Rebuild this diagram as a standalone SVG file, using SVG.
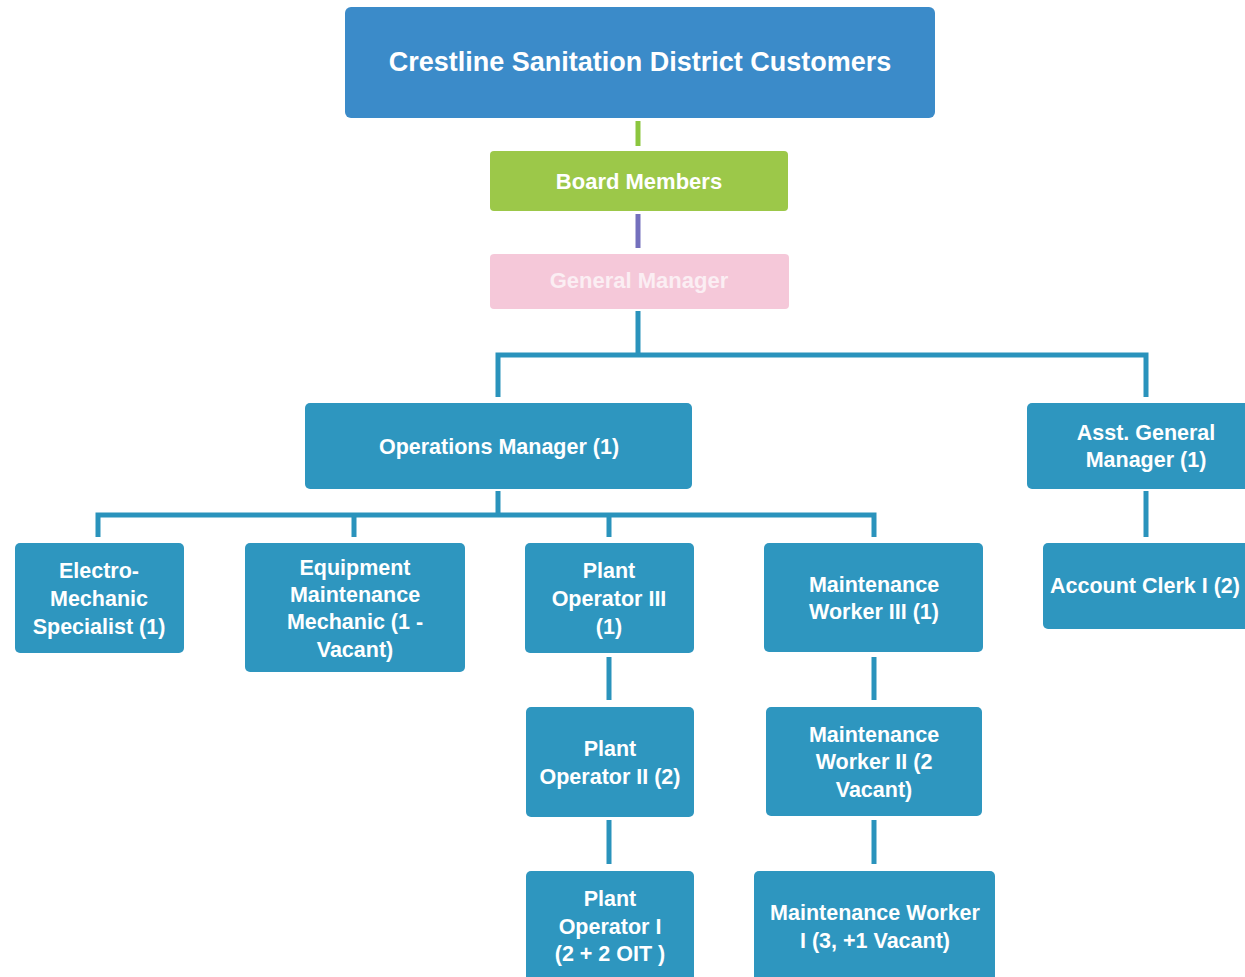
<svg xmlns="http://www.w3.org/2000/svg" width="1245" height="977" viewBox="0 0 1245 977">
<style>
.box{fill:#2e96bf;}
.t{font-family:"Liberation Sans",Arial,sans-serif;font-weight:bold;fill:#ffffff;text-anchor:middle;font-size:21.5px;}
.c{fill:none;stroke:#2a93bc;stroke-width:5;}
</style>
<rect width="1245" height="977" fill="#ffffff"/>
<g id="connectors">
<line x1="638" y1="121" x2="638" y2="146" stroke="#8cc63f" stroke-width="5"/>
<line x1="638" y1="214" x2="638" y2="248" stroke="#7470bd" stroke-width="5"/>
<path class="c" d="M638 311 V355 M498 397 V355 H1146 V397"/>
<path class="c" d="M498 491 V515 M98 537 V515 H874 V537 M354 515 V537 M609 515 V537"/>
<path class="c" d="M1146 491 V537"/>
<path class="c" d="M609 657 V700 M609 820 V864"/>
<path class="c" d="M874 657 V700 M874 820 V864"/>
</g>
<g id="customers">
<rect x="345" y="7" width="590" height="111" rx="6" fill="#3b8bc9"/>
<text class="t" x="640" y="71" style="font-size:27px">Crestline Sanitation District Customers</text>
</g>
<g id="board">
<rect x="490" y="151" width="298" height="60" rx="4" fill="#9cc849"/>
<text class="t" x="639" y="189" style="font-size:22px">Board Members</text>
</g>
<g id="gm">
<rect x="490" y="254" width="299" height="55" rx="4" fill="#f5c8d9"/>
<text class="t" x="639" y="288" style="font-size:22px;fill:#fbeef3">General Manager</text>
</g>
<g id="ops">
<rect class="box" x="305" y="403" width="387" height="86" rx="5"/>
<text class="t" x="499" y="454">Operations Manager (1)</text>
</g>
<g id="agm">
<rect class="box" x="1027" y="403" width="225" height="86" rx="5"/>
<text class="t" x="1146" y="440">Asst. General</text>
<text class="t" x="1146" y="467">Manager (1)</text>
</g>
<g id="electro">
<rect class="box" x="15" y="543" width="169" height="110" rx="5"/>
<text class="t" x="99" y="578">Electro-</text>
<text class="t" x="99" y="606">Mechanic</text>
<text class="t" x="99" y="634">Specialist (1)</text>
</g>
<g id="equip">
<rect class="box" x="245" y="543" width="220" height="129" rx="5"/>
<text class="t" x="355" y="575">Equipment</text>
<text class="t" x="355" y="602">Maintenance</text>
<text class="t" x="355" y="629">Mechanic (1 -</text>
<text class="t" x="355" y="657">Vacant)</text>
</g>
<g id="po3">
<rect class="box" x="525" y="543" width="169" height="110" rx="5"/>
<text class="t" x="609" y="578">Plant</text>
<text class="t" x="609" y="606">Operator III</text>
<text class="t" x="609" y="634">(1)</text>
</g>
<g id="mw3">
<rect class="box" x="764" y="543" width="219" height="109" rx="5"/>
<text class="t" x="874" y="592">Maintenance</text>
<text class="t" x="874" y="619">Worker III (1)</text>
</g>
<g id="clerk">
<rect class="box" x="1043" y="543" width="210" height="86" rx="5"/>
<text class="t" x="1145" y="593">Account Clerk I (2)</text>
</g>
<g id="po2">
<rect class="box" x="526" y="707" width="168" height="110" rx="5"/>
<text class="t" x="610" y="756">Plant</text>
<text class="t" x="610" y="784">Operator II (2)</text>
</g>
<g id="mw2">
<rect class="box" x="766" y="707" width="216" height="109" rx="5"/>
<text class="t" x="874" y="742">Maintenance</text>
<text class="t" x="874" y="769">Worker II (2</text>
<text class="t" x="874" y="797">Vacant)</text>
</g>
<g id="po1">
<rect class="box" x="526" y="871" width="168" height="115" rx="5"/>
<text class="t" x="610" y="906">Plant</text>
<text class="t" x="610" y="934">Operator I</text>
<text class="t" x="610" y="961">(2 + 2 OIT )</text>
</g>
<g id="mw1">
<rect class="box" x="754" y="871" width="241" height="115" rx="5"/>
<text class="t" x="875" y="920">Maintenance Worker</text>
<text class="t" x="875" y="948">I (3, +1 Vacant)</text>
</g>
</svg>
